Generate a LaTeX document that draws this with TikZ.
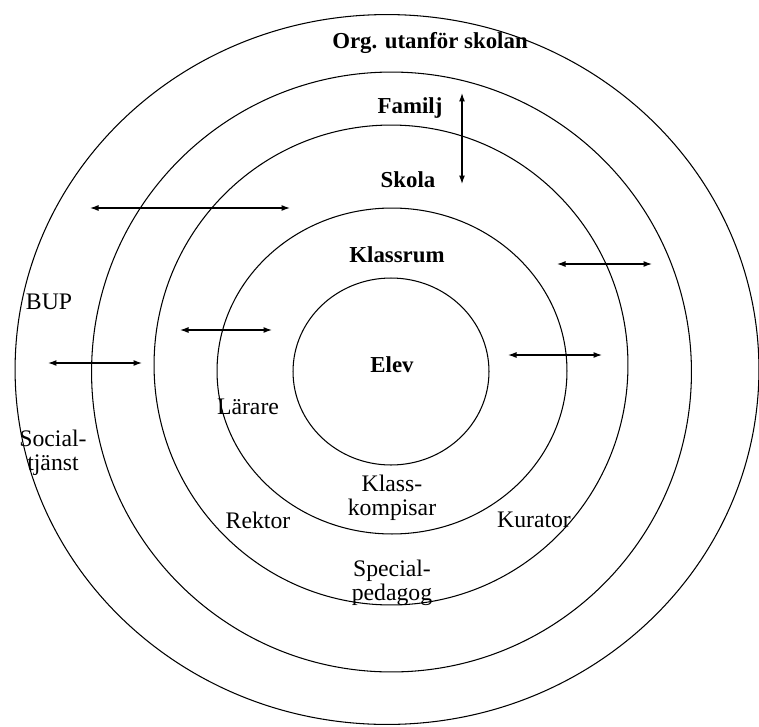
\documentclass[tikz,border=0pt]{standalone}
\usepackage{fontspec}
\setmainfont{Liberation Serif}
\usepackage{tikz}
\usetikzlibrary{arrows.meta}
\tikzset{basic/.style={draw,fill=none,line width=0.6pt}}
\tikzset{level/.style={font=\fontsize{13}{15}\selectfont\bfseries,
                       inner sep=1pt}}
\tikzset{role/.style={font=\fontsize{13.5}{13.5}\selectfont,
                      align=center,inner sep=1pt}}
\tikzset{link/.style={line width=0.7pt,
                      {Latex[length=1.7mm,width=1.2mm]}-{Latex[length=1.7mm,width=1.2mm]}}}

\begin{document}
\begin{tikzpicture}[x=0.02cm,y=-0.02cm]
    \useasboundingbox (0,0) rectangle (759,726);
    % Draw the rings, outside in
    \draw[basic] (387,369.5) ellipse [x radius=7.44cm, y radius=7.10cm];
    \draw[basic] (391.5,372) ellipse [x radius=6.00cm, y radius=6.00cm];
    \draw[basic] (391,365)   ellipse [x radius=4.74cm, y radius=4.80cm];
    \draw[basic] (392,371)   ellipse [x radius=3.50cm, y radius=3.26cm];
    \draw[basic] (391,371.5) ellipse [x radius=1.96cm, y radius=1.87cm];
    % Ring names
    \node[level] (org)      at (430,43)  {Org. utanför skolan};
    \node[level] (familj)   at (410,108) {Familj};
    \node[level] (skola)    at (408,180) {Skola};
    \node[level] (klassrum) at (397,255) {Klassrum};
    \node[level] (elev)     at (392,365) {Elev};
    % People in each ring
    \node[role] (bup)     at (49,302)  {BUP};
    \node[role] (social)  at (53,453)  {Social-\\tjänst};
    \node[role] (larare)  at (248,407) {Lärare};
    \node[role] (rektor)  at (258,520) {Rektor};
    \node[role] (kompis)  at (392,498) {Klass-\\kompisar};
    \node[role] (kurator) at (534,520) {Kurator};
    \node[role] (special) at (392,583) {Special-\\pedagog};
    % End points of the two-way arrows
    \foreach \n/\a/\b in {v/{462,93}/{462,184},
                          a/{90,208}/{290,208},
                          b/{557,264}/{652,264},
                          c/{180,330}/{272,330},
                          d/{48,363}/{142,363},
                          e/{508,355}/{602,355}}{%
          \coordinate (\n1) at (\a);
          \coordinate (\n2) at (\b);
          \draw[link] (\n1) -- (\n2);
        }
\end{tikzpicture}
\end{document}
